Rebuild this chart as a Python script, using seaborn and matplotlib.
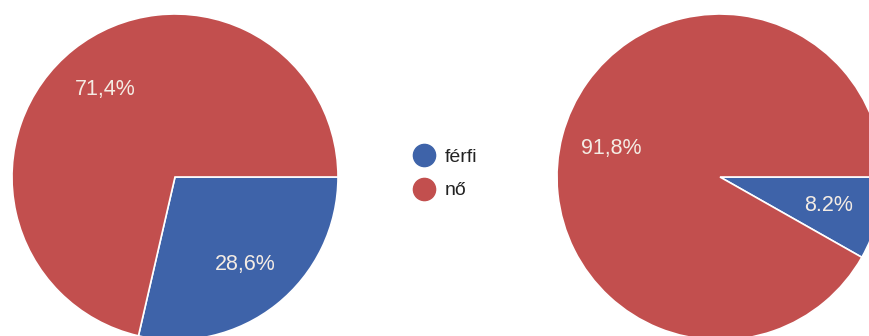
import matplotlib.pyplot as plt
import seaborn as sns
from matplotlib.lines import Line2D

# data
categories = ['férfi', 'nő']
left_values = [28.6, 71.4]
right_values = [8.2, 91.8]
left_labels = ['28,6%', '71,4%']
right_labels = ['8.2%', '91,8%']

sns.set_theme(style='white')
plt.rcParams['font.family'] = ['Liberation Sans', 'DejaVu Sans']
colors = ['#3e63a9', '#c24f4e']

fig = plt.figure(figsize=(8.7, 3.36), dpi=100)
ax1 = fig.add_axes([12 / 870, -4 / 336, 326 / 870, 326 / 336])
ax2 = fig.add_axes([557 / 870, -4 / 336, 326 / 870, 326 / 336])


def draw_pie(ax, values, labels):
    wedges, texts, autotexts = ax.pie(
        values, colors=colors, startangle=0, counterclock=False,
        autopct='%1.1f%%', pctdistance=0.69, radius=1,
        wedgeprops=dict(edgecolor='white', linewidth=1.2),
        textprops=dict(color='#f4ece4', fontsize=15.5))
    for t, lbl in zip(autotexts, labels):
        t.set_text(lbl)
    ax.set_xlim(-1, 1)
    ax.set_ylim(-1, 1)
    ax.set_aspect('equal')


draw_pie(ax1, left_values, left_labels)
draw_pie(ax2, right_values, right_labels)

handles = [Line2D([], [], marker='o', linestyle='', markersize=16,
                  markerfacecolor=c, markeredgecolor=c) for c in colors]
fig.legend(handles, categories, loc='center left',
           bbox_to_anchor=(397 / 870, 1 - 174 / 336), frameon=False,
           fontsize=14, labelcolor='#222222', handletextpad=0.05,
           labelspacing=0.8, borderaxespad=0)

fig.savefig('out.png', dpi=100)
